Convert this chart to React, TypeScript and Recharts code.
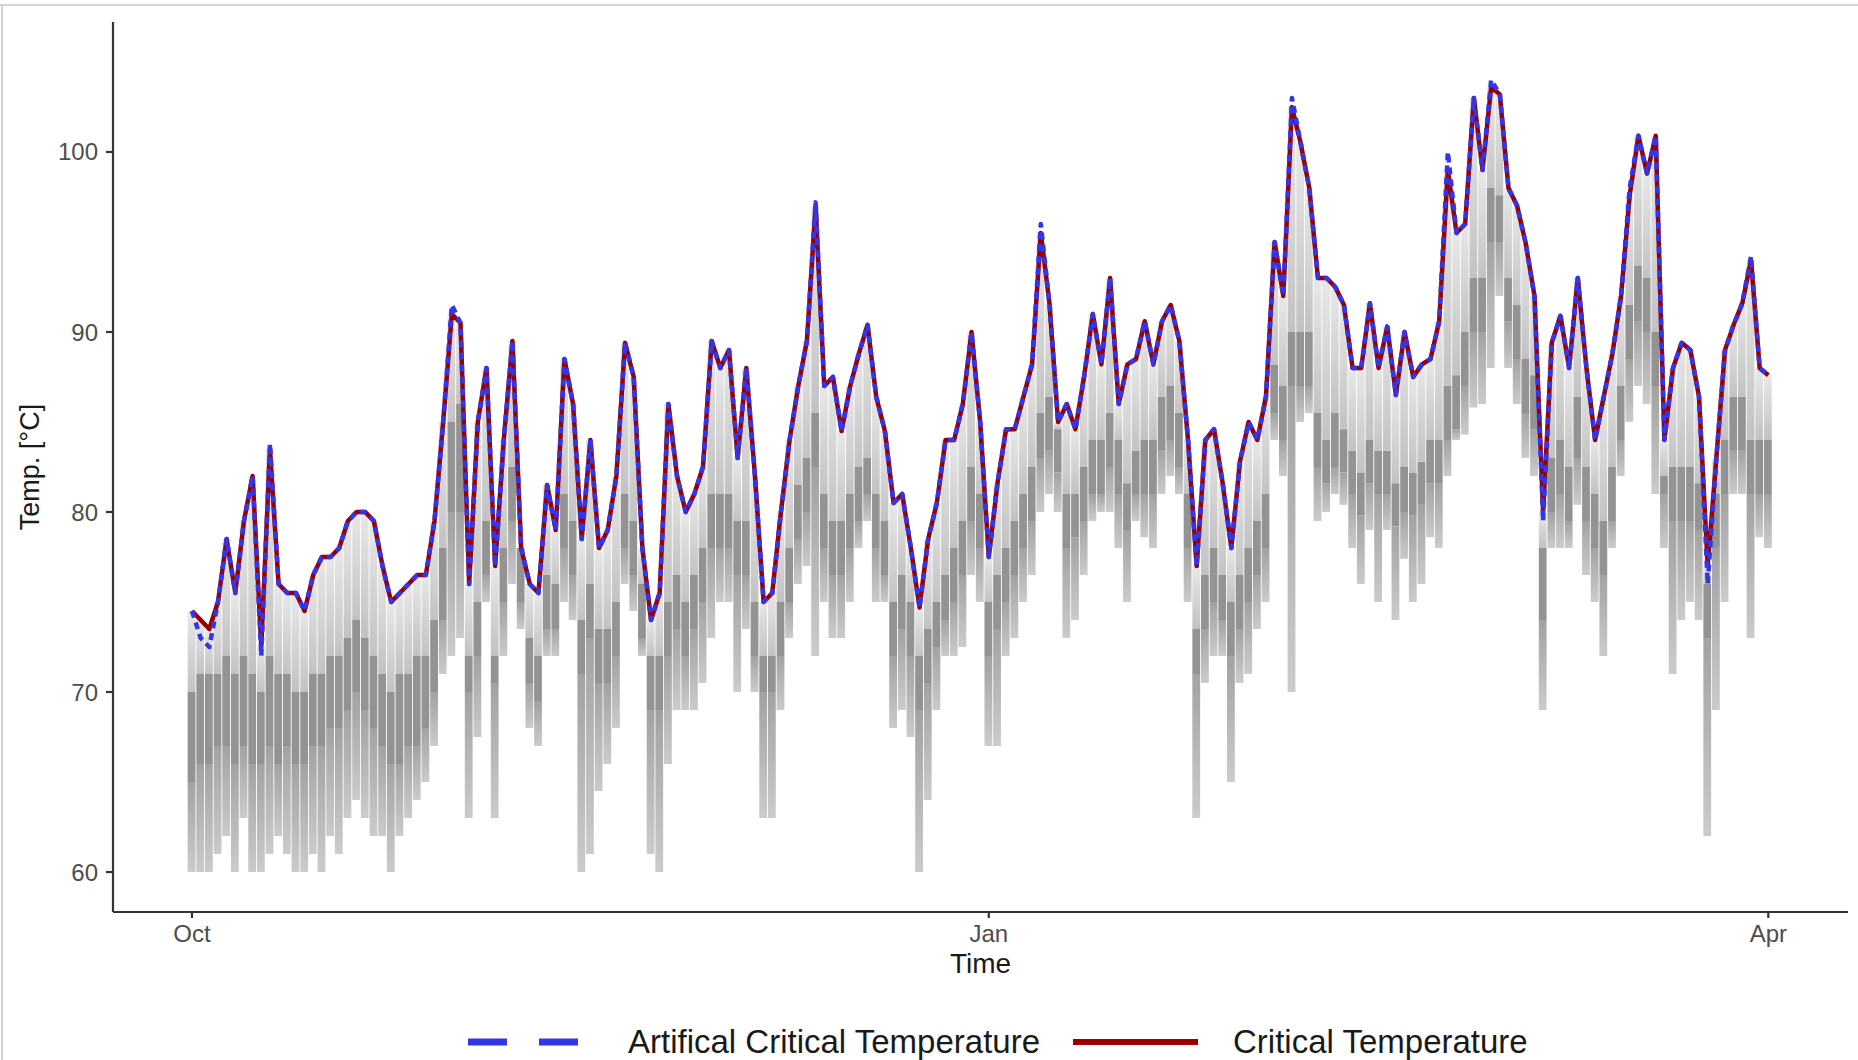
import { Bar, ComposedChart, Label, Legend, Line, XAxis, YAxis } from "recharts";

// one value per day, day 0 = 1 Oct, day 182 = 1 Apr
const tickDays = [0, 92, 182];
const tickLabels = ["Oct", "Jan", "Apr"];
const yTicks = [60, 70, 80, 90, 100];

const critical = [
  74.5, 74, 73.5, 75, 78.5, 75.5, 79.5, 82, 72.5, 83.5,
  76, 75.5, 75.5, 74.5, 76.5, 77.5, 77.5, 78, 79.5, 80,
  80, 79.5, 77, 75, 75.5, 76, 76.5, 76.5, 79.5, 85,
  91, 90.5, 76, 85, 88, 77, 84, 89.5, 78, 76,
  75.5, 81.5, 79, 88.5, 86, 78.5, 84, 78, 79, 82,
  89.4, 87.5, 78, 74, 75.5, 86, 82, 80, 81, 82.5,
  89.5, 88, 89, 83, 88, 82, 75, 75.5, 80, 84,
  87, 89.5, 97, 87, 87.5, 84.5, 87, 88.8, 90.4, 86.4,
  84.5, 80.5, 81, 78, 74.7, 78.5, 80.5, 84, 84, 86,
  90, 85, 77.5, 81.6, 84.6, 84.6, 86.4, 88.2, 95.5, 91.6,
  85, 86, 84.6, 87.5, 91, 88.2, 93, 86, 88.2, 88.5,
  90.6, 88.2, 90.6, 91.5, 89.5, 84, 77, 84, 84.6, 81.6,
  78, 82.8, 85, 84, 86.4, 95, 92, 102.5, 100.5, 98,
  93, 93, 92.5, 91.5, 88, 88, 91.6, 88, 90.3, 86.5,
  90, 87.5, 88.2, 88.5, 90.6, 99, 95.5, 96, 103, 99,
  103.6, 103.2, 98, 97, 94.9, 92, 80, 89.4, 90.9, 88,
  93, 88, 84, 86.4, 88.8, 92, 97.6, 100.9, 98.8, 100.9,
  84, 88, 89.4, 89, 86.4, 77, 83, 89, 90.4, 91.6,
  94, 88, 87.6,
];

const artificial = [
  74.5, 73, 72.5, 75, 78.5, 75.5, 79.5, 82, 72, 83.8,
  76, 75.5, 75.5, 74.5, 76.5, 77.5, 77.5, 78, 79.5, 80,
  80, 79.5, 77, 75, 75.5, 76, 76.5, 76.5, 79.5, 85,
  91.5, 90.5, 76, 85, 88, 77, 84, 89.5, 78, 76,
  75.5, 81.5, 79, 88.5, 86, 78.5, 84, 78, 79, 82,
  89.4, 87.5, 78, 74, 75.5, 86, 82, 80, 81, 82.5,
  89.5, 88, 89, 83, 88, 82, 75, 75.5, 80, 84,
  87, 89.5, 97.2, 87, 87.5, 84.5, 87, 88.8, 90.4, 86.4,
  84.5, 80.5, 81, 78, 74.7, 78.5, 80.5, 84, 84, 86,
  90, 85, 77.5, 81.6, 84.6, 84.6, 86.4, 88.2, 96, 91.6,
  85, 86, 84.6, 87.5, 91, 88.2, 93, 86, 88.2, 88.5,
  90.6, 88.2, 90.6, 91.5, 89.5, 84, 77, 84, 84.6, 81.6,
  78, 82.8, 85, 84, 86.4, 95, 92, 103, 100.5, 98,
  93, 93, 92.5, 91.5, 88, 88, 91.6, 88, 90.3, 86.5,
  90, 87.5, 88.2, 88.5, 90.6, 100, 95.5, 96, 103, 99,
  104, 103.2, 98, 97, 94.9, 92, 79.5, 89.4, 90.9, 88,
  93, 88, 84, 86.4, 88.8, 92, 98, 100.9, 98.8, 100.9,
  84, 88, 89.4, 89, 86.4, 76, 83, 89, 90.4, 91.6,
  94.2, 88, 87.6,
];

// grey envelope: lowest value, and the darker middle band
const grayLow = [
  60, 60, 60, 61, 62, 60, 63, 60, 60, 61,
  62, 61, 60, 60, 61, 60, 62, 61, 63, 64,
  63, 62, 62, 60, 62, 63, 64, 65, 67, 71,
  72, 73, 63, 67.5, 75, 63, 72, 76, 73.5, 68,
  67, 72, 72, 75, 74, 60, 61, 64.5, 66, 68,
  76, 74.5, 72, 61, 60, 66, 69, 69, 69, 70.5,
  73, 75, 75, 70, 73.5, 70, 63, 63, 69, 73,
  76, 77, 72, 75, 73, 73, 75, 78, 79.5, 75,
  75, 68, 69, 67.5, 60, 64, 69, 72, 72, 72.5,
  76.5, 75, 67, 67, 72, 73, 75, 76.5, 80, 81,
  80, 73, 74, 76.5, 79.5, 80, 80, 78, 75, 79.5,
  78.6, 78, 81, 82, 81, 75, 63, 70.5, 72, 72,
  65, 70.5, 71, 73.5, 75, 84, 82, 70, 85, 85.5,
  79.5, 80, 81, 80.4, 78, 76, 79, 75, 79, 74,
  77.4, 75, 76, 78.6, 78, 82, 84, 84.3, 85.8, 86,
  88, 92, 88, 86, 83, 82, 69, 78, 78, 78,
  80.4, 76.5, 75, 72, 78, 82, 85, 87, 86, 81,
  78, 71, 74, 75, 74, 62, 69, 75, 81, 81,
  73, 78.6, 78,
];

const darkLow = [
  65, 66, 66, 67, 67, 66, 67, 66, 66, 67,
  66, 67, 66, 66, 67, 67, 68, 68, 69, 70,
  69, 68, 67, 66, 66, 67, 67, 68, 70, 74,
  80, 80, 70, 72, 76.5, 70.5, 75, 79.5, 75, 70.5,
  69.5, 73.5, 73.5, 78, 76.5, 71, 73, 70.5, 70.5, 72,
  78, 76.5, 73, 69, 69, 72, 73.5, 72, 73.5, 75,
  78, 78, 78, 76.5, 76.5, 72, 70, 70, 72, 75,
  78.5, 80, 82.5, 78, 76.5, 76.5, 78, 79.5, 81, 78,
  76.5, 72, 73.5, 72, 69, 70.5, 72.5, 74, 75, 76.5,
  79.5, 78, 72, 73.5, 75, 76.5, 78, 79.5, 83, 83.4,
  82.2, 78, 78.6, 79.5, 81, 81, 82.5, 81, 79, 81,
  81, 81, 83.4, 84, 82.5, 78, 71, 73.5, 75, 74,
  72, 73.5, 75, 76.5, 78, 85.5, 84, 87, 87, 87,
  82.5, 81.6, 82.5, 82.2, 81, 79.8, 81.6, 81, 81, 79.2,
  80, 79.8, 80.4, 81.6, 81.6, 84, 84.6, 87, 90, 90,
  95, 95, 90.6, 88.5, 85.5, 84.6, 74, 80, 81, 79.5,
  83, 79.5, 78, 76.5, 79.5, 84, 88.5, 90.6, 90, 87,
  81, 79.5, 79.5, 79.5, 79, 73, 78, 81, 83.4, 83.4,
  81, 81, 81,
];

const darkHigh = [
  70, 71, 71, 71, 72, 71, 72, 71, 70, 72,
  71, 71, 70, 70, 71, 71, 72, 72, 73, 74,
  73, 72, 71, 70, 71, 71, 72, 72, 74, 78,
  85, 86, 72, 75, 79.5, 72, 78, 82.5, 78, 73,
  72, 76.5, 76, 81, 79.5, 74, 76, 73.5, 73.5, 75,
  81, 79.5, 76, 72, 72, 75, 76.5, 75, 76.5, 78,
  81, 81, 81, 79.5, 79.5, 75, 72, 72, 75, 78,
  81.5, 83, 85.5, 81, 79.5, 79.5, 81, 82.5, 83, 81,
  79.5, 75, 76.5, 75, 72, 73.5, 75, 76.5, 78, 79.5,
  82.5, 81, 75, 76.5, 78, 79.5, 81, 82.5, 85.5, 86.4,
  84.6, 81, 81, 82.5, 84, 84, 85.5, 84, 81.6, 83.4,
  84, 84, 86.4, 87, 85.5, 81, 73.5, 76.5, 78, 76.5,
  75, 76.5, 78, 79.5, 81, 88.2, 87, 90, 90, 90,
  85.5, 84, 85.5, 84.6, 83.4, 82.2, 84, 83.4, 83.4, 81.6,
  82.5, 82.2, 82.8, 84, 84, 87, 87.6, 90, 93, 93,
  98, 97.6, 93, 91.5, 88.5, 87.6, 78, 83, 84, 82.5,
  86.4, 82.5, 81, 79.5, 82.5, 87, 91.5, 93.7, 93, 90,
  82, 82.5, 82.5, 82.5, 81.6, 76, 81, 84, 86.4, 86.4,
  84, 84, 84,
];

const series = [
  { key: "artificial", name: "Artifical Critical Temperature", color: "#3535e8", dashed: true },
  { key: "critical", name: "Critical Temperature", color: "#990000", dashed: false },
];

const data = critical.map((c, i) => ({
  day: i,
  base: grayLow[i],
  tail: Math.max(0, darkLow[i] - grayLow[i]),
  dark: Math.max(0, darkHigh[i] - darkLow[i]),
  light: Math.max(0, c - darkHigh[i]),
  critical: c,
  artificial: artificial[i],
}));

const font = "'Liberation Sans', Arial, Helvetica, sans-serif";

const LegendRow = () => (
  <div
    style={{
      display: "flex",
      alignItems: "center",
      height: 50,
      paddingLeft: 468,
      fontFamily: font,
      fontSize: 33,
      color: "#1a1a1a",
    }}
  >
    {series.map((s) => (
      <div key={s.key} style={{ display: "flex", alignItems: "center", marginRight: 33 }}>
        <svg width={125} height={20} style={{ marginRight: 35 }}>
          <line
            x1={0}
            x2={125}
            y1={10}
            y2={10}
            stroke={s.color}
            strokeWidth={s.dashed ? 7 : 6}
            strokeDasharray={s.dashed ? "39 32" : undefined}
          />
        </svg>
        <span>{s.name}</span>
      </div>
    ))}
  </div>
);

export default function App() {
  return (
    <div style={{ position: "absolute", left: 0, top: 0, width: 1858, height: 1060, background: "#fff" }}>
      <div style={{ position: "absolute", left: 0, top: 4, width: 1858, height: 2, background: "#d4d4d4" }} />
      <div style={{ position: "absolute", left: 1, top: 4, width: 2, height: 1056, background: "#d4d4d4" }} />
      <ComposedChart
        width={1858}
        height={1060}
        data={data}
        margin={{ top: 22, right: 10, bottom: 0, left: 0 }}
        barGap={0}
      >
        <defs>
          <linearGradient id="lightBand" x1="0" y1="0" x2="0" y2="1">
            <stop offset="0%" stopColor="#e8e8e8" />
            <stop offset="100%" stopColor="#c2c2c2" />
          </linearGradient>
          <linearGradient id="tailBand" x1="0" y1="0" x2="0" y2="1">
            <stop offset="0%" stopColor="#a2a2a2" />
            <stop offset="100%" stopColor="#cbcbcb" />
          </linearGradient>
        </defs>
        <XAxis
          dataKey="day"
          type="number"
          domain={[-9.12, 191.2]}
          allowDataOverflow
          ticks={tickDays}
          tickFormatter={(v) => tickLabels[tickDays.indexOf(v)]}
          height={148}
          stroke="#333333"
          strokeWidth={2.2}
          tickSize={6}
          tickMargin={7}
          tick={{ fill: "#4d4d4d", fontSize: 24, fontFamily: font }}
        >
          <Label
            content={({ viewBox }: any) => (
              <text
                x={viewBox.x + viewBox.width / 2}
                y={viewBox.y + 51}
                textAnchor="middle"
                dominantBaseline="central"
                fontSize={28}
                fontFamily={font}
                fill="#1a1a1a"
              >
                Time
              </text>
            )}
          />
        </XAxis>
        <YAxis
          type="number"
          domain={[57.78, 107.22]}
          allowDataOverflow
          ticks={yTicks}
          width={113}
          stroke="#333333"
          strokeWidth={2.2}
          tickSize={7}
          tickMargin={8}
          tick={{ fill: "#4d4d4d", fontSize: 24, fontFamily: font }}
        >
          <Label
            content={({ viewBox }: any) => {
              const cx = viewBox.x + 30;
              const cy = viewBox.y + viewBox.height / 2;
              return (
                <text
                  x={cx}
                  y={cy}
                  transform={`rotate(-90 ${cx} ${cy})`}
                  textAnchor="middle"
                  dominantBaseline="central"
                  fontSize={27}
                  fontFamily={font}
                  fill="#1a1a1a"
                >
                  Temp. [°C]
                </text>
              );
            }}
          />
        </YAxis>
        <Bar dataKey="base" stackId="g" fill="transparent" barSize={9} isAnimationActive={false} legendType="none" />
        <Bar dataKey="tail" stackId="g" fill="url(#tailBand)" barSize={9} isAnimationActive={false} legendType="none" />
        <Bar dataKey="dark" stackId="g" fill="#939393" barSize={9} isAnimationActive={false} legendType="none" />
        <Bar dataKey="light" stackId="g" fill="url(#lightBand)" barSize={9} isAnimationActive={false} legendType="none" />
        <Line
          dataKey="critical"
          type="linear"
          stroke="#990000"
          strokeWidth={4.5}
          strokeLinejoin="round"
          dot={false}
          isAnimationActive={false}
        />
        <Line
          dataKey="artificial"
          type="linear"
          stroke="#3535e8"
          strokeWidth={4.5}
          strokeDasharray="7 5"
          strokeLinejoin="round"
          dot={false}
          isAnimationActive={false}
        />
        <Legend
          layout="horizontal"
          verticalAlign="middle"
          align="center"
          wrapperStyle={{ left: 0, top: 1017, width: 1858 }}
          content={() => <LegendRow />}
        />
      </ComposedChart>
    </div>
  );
}
